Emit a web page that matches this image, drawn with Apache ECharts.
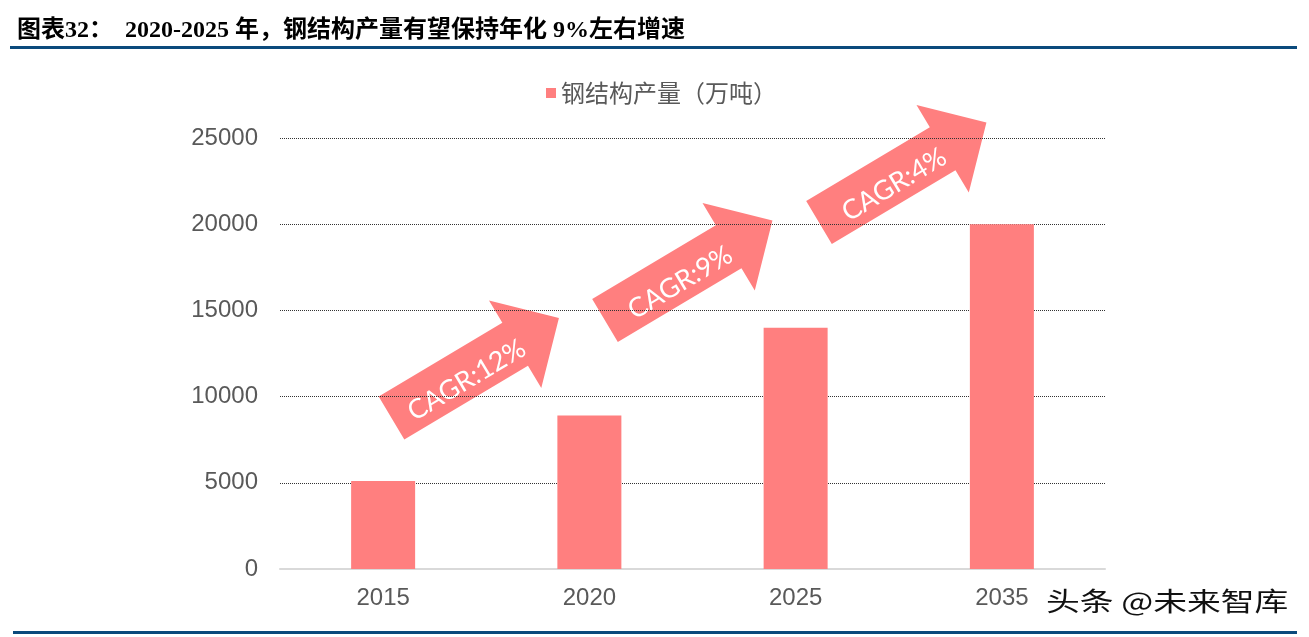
<!DOCTYPE html>
<html>
<head>
<meta charset="utf-8">
<script src="https://cdn.jsdelivr.net/npm/echarts@6/dist/echarts.min.js"></script>
<style>html,body{margin:0;padding:0;background:#fff;}#c{width:1309px;height:637px;}</style>
</head>
<body>
<div id="c"></div>
<script>
const titleText = '图表32：  2020-2025 年，钢结构产量有望保持年化 9%左右增速';
const seriesName = '钢结构产量（万吨）';
const categories = ['2015', '2020', '2025', '2035'];
const values = [5100, 8900, 14000, 20000];
const cagrLabels = ['CAGR:12%', 'CAGR:9%', 'CAGR:4%'];
const watermark = '头条 @未来智库';

const barColor = '#FF7F7F';
const arrowTails = [[391.5, 418], [605, 320.5], [819, 222.5]];
const ang = Math.atan2(100, 167.5);

function arrow(i) {
  return {
    type: 'group', x: arrowTails[i][0], y: arrowTails[i][1], rotation: ang, z: 50,
    children: [
      { type: 'polygon', shape: { points: [[0,-25],[144,-25],[144,-51],[195,0],[144,51],[144,25],[0,25]] },
        style: { fill: barColor } },
      { type: 'text', x: 84, y: 6, style: { text: cagrLabels[i], fill: '#fff', font: '27px Lato, "Open Sans", sans-serif',
        align: 'center', verticalAlign: 'middle' } }
    ]
  };
}

const chart = echarts.init(document.getElementById('c'));
chart.setOption({
  animation: false,
  backgroundColor: '#fff',
  title: {
    text: titleText, left: 12, top: 14,
    textStyle: { fontSize: 24, fontWeight: 'bold', color: '#000', fontFamily: '"Liberation Serif", "Noto Sans CJK SC", serif' }
  },
  legend: {
    data: [seriesName], left: 541, top: 76, icon: 'rect', itemWidth: 10, itemHeight: 10, itemGap: 5,
    textStyle: { fontSize: 24, color: '#595959', fontFamily: '"Noto Sans CJK SC", sans-serif' }
  },
  grid: { left: 280, right: 204, top: 138, bottom: 68, containLabel: false },
  xAxis: {
    type: 'category', data: categories,
    axisLine: { lineStyle: { color: '#d9d9d9', width: 2 } },
    axisTick: { show: false },
    axisLabel: { fontSize: 24, color: '#595959', margin: 17, fontFamily: '"Liberation Sans", Arial, sans-serif' }
  },
  yAxis: {
    type: 'value', min: 0, max: 25000, interval: 5000,
    axisLine: { show: false }, axisTick: { show: false },
    axisLabel: { fontSize: 24, color: '#595959', margin: 22, formatter: v => String(v), fontFamily: '"Liberation Sans", Arial, sans-serif' },
    splitLine: { lineStyle: { color: '#333', type: [1, 1], width: 1 } }
  },
  series: [{
    name: seriesName, type: 'bar', data: values, barWidth: 64,
    itemStyle: { color: barColor }
  }],
  graphic: [
    { type: 'rect', shape: { x: 10, y: 46, width: 1287, height: 3 }, style: { fill: '#0b4a7c' } },
    { type: 'rect', shape: { x: 13, y: 631, width: 1284, height: 3 }, style: { fill: '#0b4a7c' } },
    arrow(0), arrow(1), arrow(2),
    { type: 'text', x: 1046, y: 601, scaleX: 1.3, z: 60, style: { text: watermark, fill: '#111', stroke: '#fff', lineWidth: 2,
      font: '26px "Noto Sans CJK SC", sans-serif', verticalAlign: 'middle' } }
  ]
});
</script>
</body>
</html>
